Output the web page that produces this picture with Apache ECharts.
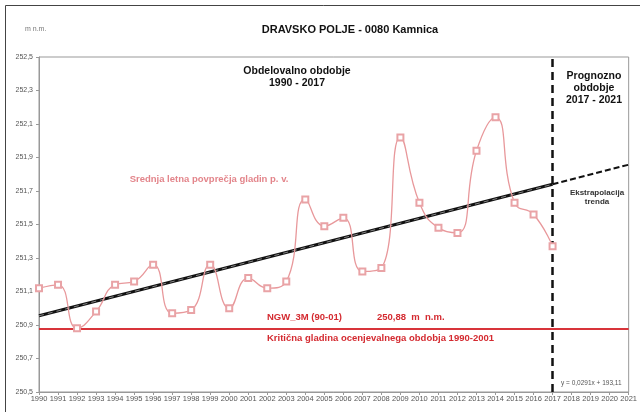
<!DOCTYPE html>
<html>
<head>
<meta charset="utf-8">
<script src="https://cdn.jsdelivr.net/npm/echarts@6/dist/echarts.min.js"></script>
<style>
html,body{margin:0;padding:0;background:#fff;}
#c{width:640px;height:412px;}
</style>
</head>
<body>
<div id="c"></div>
<script>
var years = ['1990','1991','1992','1993','1994','1995','1996','1997','1998','1999','2000','2001','2002','2003','2004','2005','2006','2007','2008','2009','2010','2011','2012','2013','2014','2015','2016','2017','2018','2019','2020','2021'];
var levels = [251.12,251.14,250.88,250.98,251.14,251.16,251.26,250.97,250.99,251.26,251.00,251.18,251.12,251.16,251.65,251.49,251.54,251.22,251.24,252.02,251.63,251.48,251.45,251.94,252.14,251.63,251.56,251.37];
var trendObserved = [['1990',250.955],['2017',251.74]];
var trendForecast = [['2017',251.74],['2021',251.857]];
var criticalLevel = 250.88;
var splitYear = '2017';

var FONT = '"Liberation Sans", Arial, sans-serif';
var chart = echarts.init(document.getElementById('c'), null, {renderer:'canvas'});
chart.setOption({
  animation:false,
  backgroundColor:'#fff',
  grid:{left:39,right:8,top:57,bottom:20,show:true,borderColor:'#999',borderWidth:1,backgroundColor:'transparent'},
  xAxis:{
    type:'category',data:years,boundaryGap:false,
    axisLine:{lineStyle:{color:'#999',width:1}},
    axisTick:{show:true,length:3,lineStyle:{color:'#999'},alignWithLabel:true},
    axisLabel:{interval:0,fontSize:7.5,color:'#555',fontFamily:FONT,margin:3,hideOverlap:false},
    splitLine:{show:false}
  },
  yAxis:{
    type:'value',min:250.5,max:252.5,interval:0.2,
    axisLine:{show:true,lineStyle:{color:'#999',width:1}},
    axisTick:{show:true,length:3,lineStyle:{color:'#999'}},
    axisLabel:{fontSize:7,color:'#555',fontFamily:FONT,margin:6,
      formatter:function(v){return v.toFixed(1).replace('.',',');}},
    splitLine:{show:false}
  },
  series:[
    {
      type:'line',data:[],silent:true,
      markLine:{
        symbol:'none',silent:true,label:{show:false},animation:false,
        data:[
          {yAxis:criticalLevel,lineStyle:{color:'#d8343a',width:2,type:'solid'}}
        ]
      }
    },
    {
      type:'line',data:trendObserved,symbol:'none',silent:true,z:3,
      lineStyle:{color:'#111',width:3}
    },
    {
      type:'line',data:trendObserved,symbol:'none',silent:true,z:4,
      lineStyle:{color:'#888',width:1,type:[5,4]}
    },
    {
      type:'line',data:trendForecast,symbol:'none',silent:true,z:3,
      lineStyle:{color:'#111',width:2,type:[6,3]}
    },
    {
      type:'line',data:levels,smooth:0.5,symbol:'emptyRect',symbolSize:6,z:5,
      lineStyle:{color:'#e8989b',width:1.3},
      itemStyle:{color:'#e9a3a6',borderColor:'#e9a3a6',borderWidth:1}
    },
    {
      type:'line',data:[],silent:true,z:6,
      markLine:{
        symbol:'none',silent:true,label:{show:false},animation:false,
        data:[{xAxis:splitYear,lineStyle:{color:'#111',width:2.5,type:[8,5]}}]
      }
    }
  ],
  graphic:[
    {type:'rect',shape:{x:5.5,y:5.5,width:700,height:500},style:{fill:'none',stroke:'#444',lineWidth:1},silent:true},
    {type:'text',x:25,y:29,style:{text:'m n.m.',font:'7px '+FONT,fill:'#777',textVerticalAlign:'middle'}},
    {type:'text',x:350,y:30,style:{text:'DRAVSKO POLJE - 0080 Kamnica',font:'bold 11px '+FONT,fill:'#111',textAlign:'center',textVerticalAlign:'middle'}},
    {type:'text',x:297,y:77,style:{text:'Obdelovalno obdobje\n1990 - 2017',font:'bold 10.5px '+FONT,fill:'#111',textAlign:'center',textVerticalAlign:'middle',lineHeight:12}},
    {type:'text',x:594,y:88,style:{text:'Prognozno\nobdobje\n2017 - 2021',font:'bold 10.5px '+FONT,fill:'#111',textAlign:'center',textVerticalAlign:'middle',lineHeight:12}},
    {type:'text',x:597,y:197,style:{text:'Ekstrapolacija\ntrenda',font:'bold 8px '+FONT,fill:'#333',textAlign:'center',textVerticalAlign:'middle',lineHeight:9}},
    {type:'text',x:209,y:179,style:{text:'Srednja letna povprečja gladin p. v.',font:'bold 9.5px '+FONT,fill:'#e3858b',textAlign:'center',textVerticalAlign:'middle'}},
    {type:'text',x:267,y:317,style:{text:'NGW_3M (90-01)',font:'bold 9.5px '+FONT,fill:'#d42a30',textVerticalAlign:'middle'}},
    {type:'text',x:377,y:317,style:{text:'250,88  m  n.m.',font:'bold 9.5px '+FONT,fill:'#d42a30',textVerticalAlign:'middle'}},
    {type:'text',x:267,y:338,style:{text:'Kritična gladina ocenjevalnega obdobja 1990-2001',font:'bold 9.5px '+FONT,fill:'#d42a30',textVerticalAlign:'middle'}},
    {type:'text',x:561,y:383,style:{text:'y = 0,0291x + 193,11',font:'6.5px '+FONT,fill:'#555',textVerticalAlign:'middle'}}
  ]
});
</script>
</body>
</html>
